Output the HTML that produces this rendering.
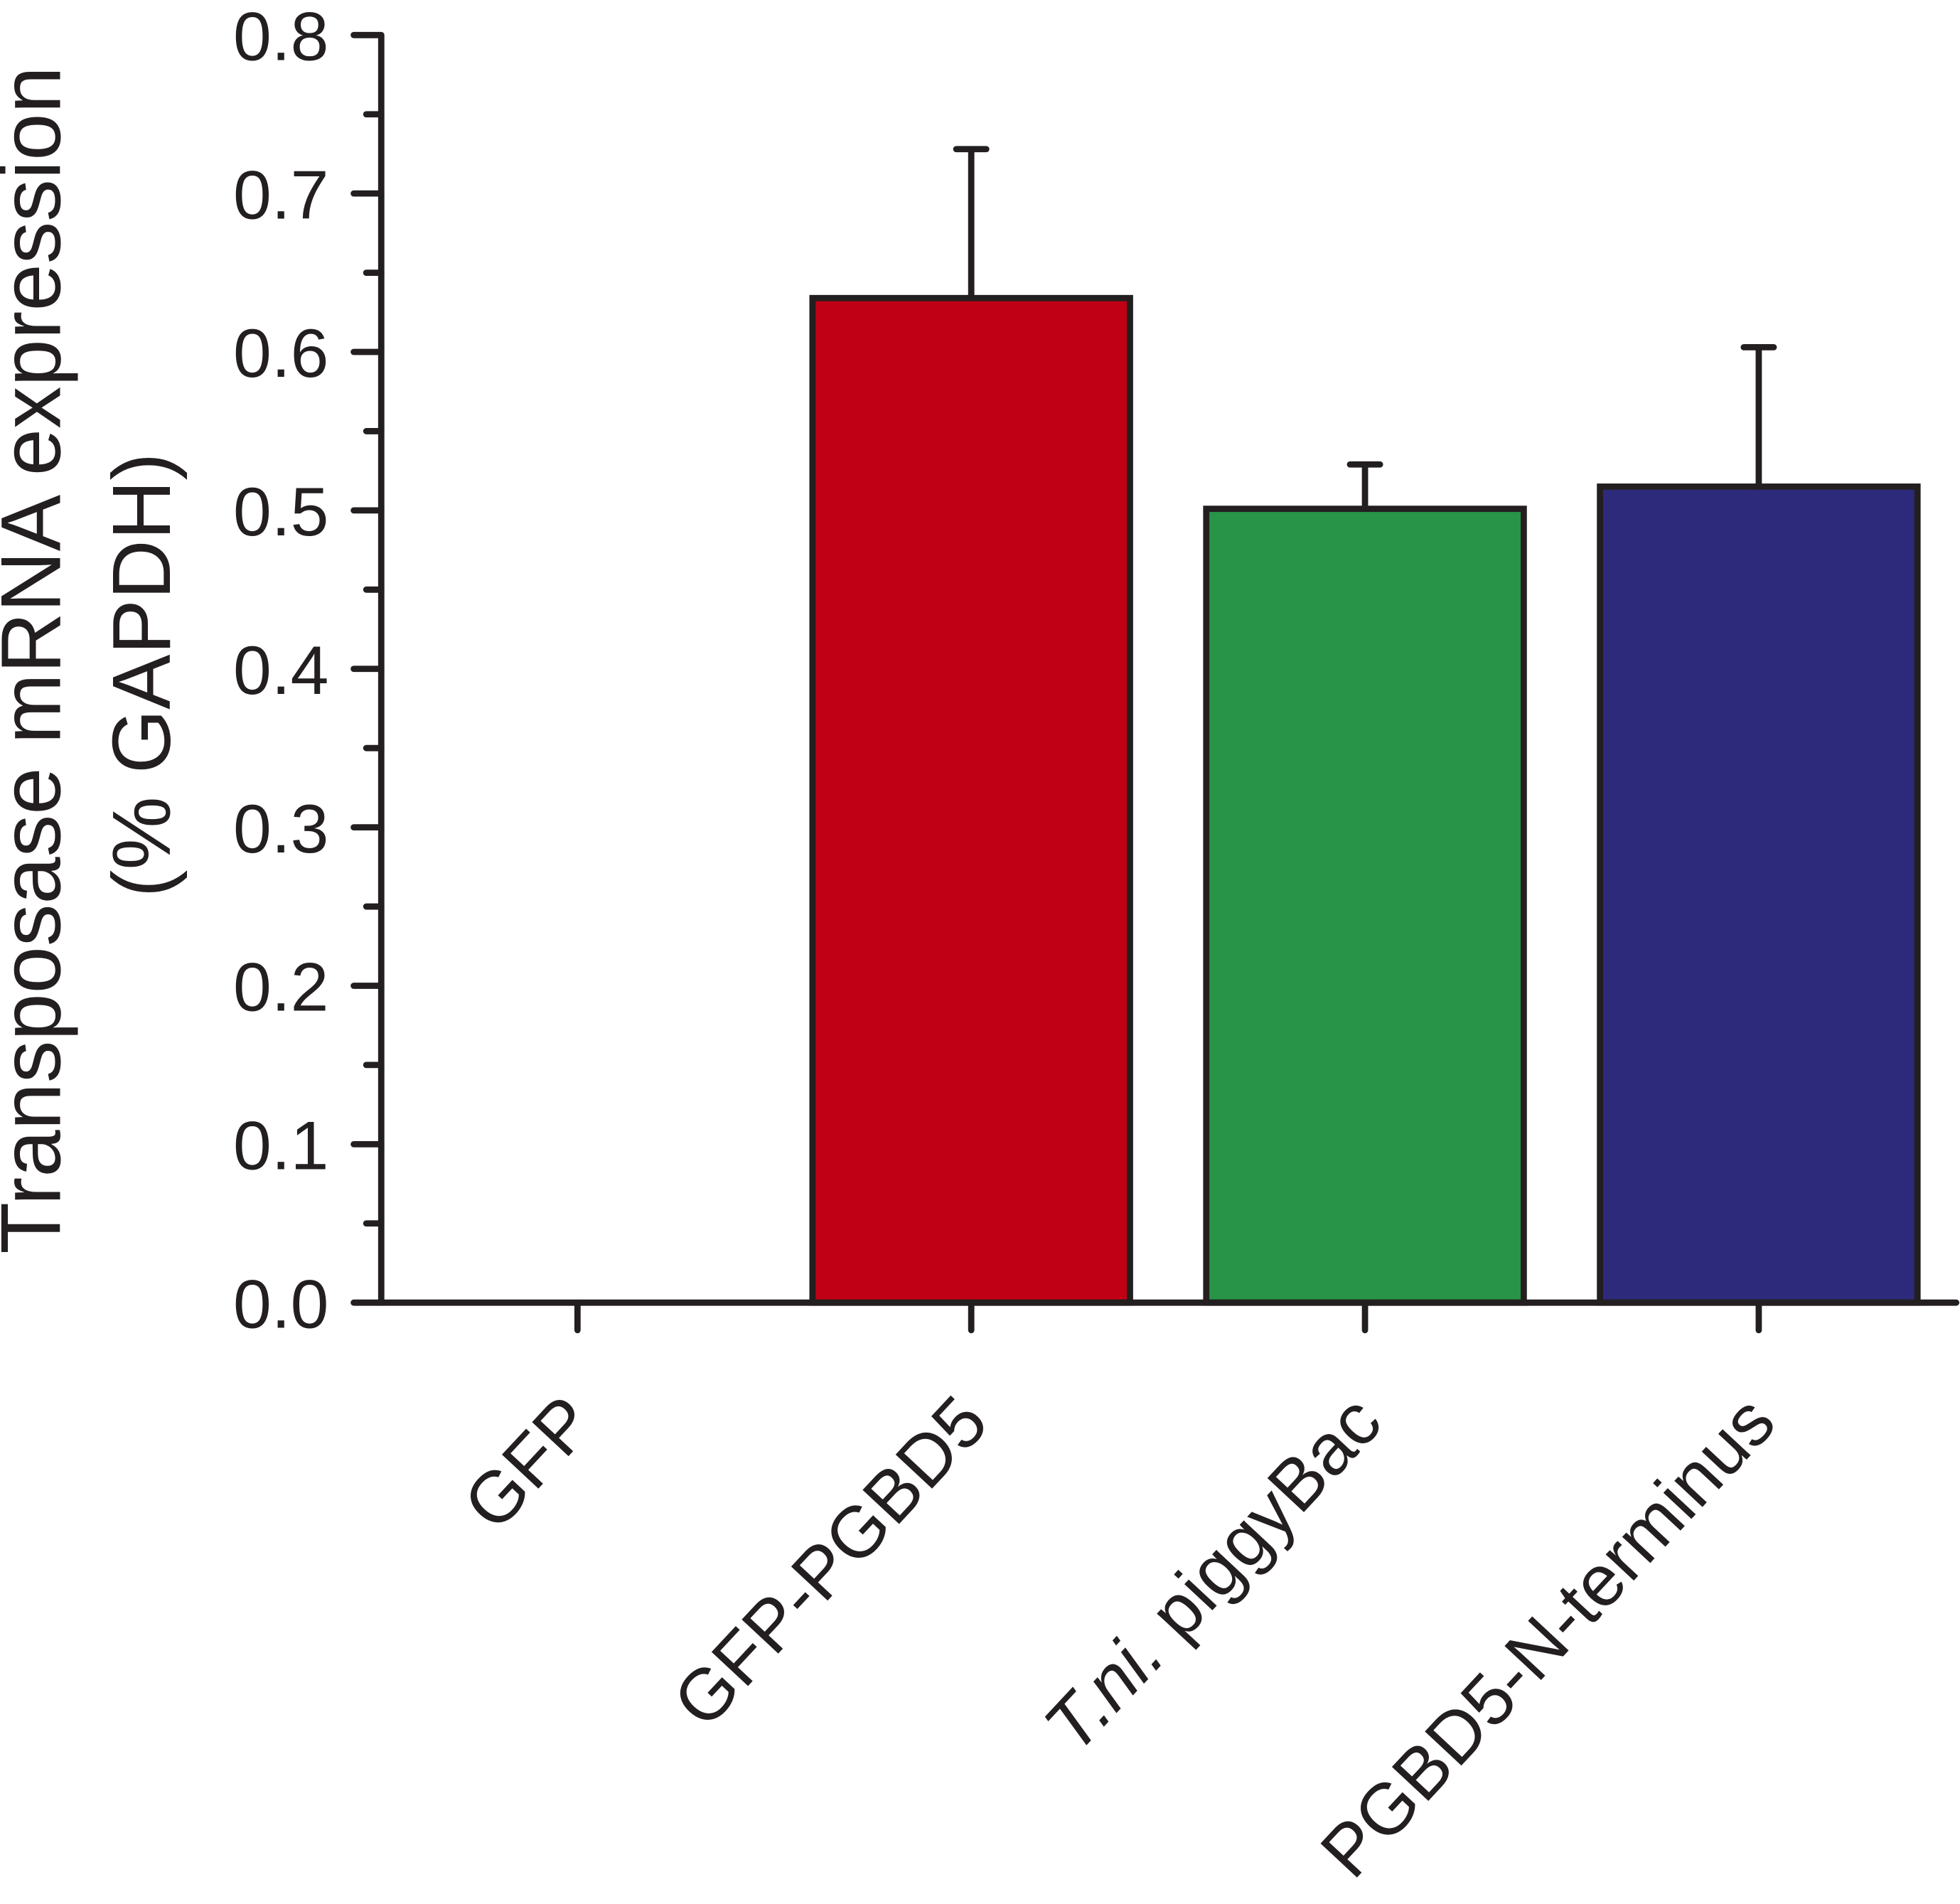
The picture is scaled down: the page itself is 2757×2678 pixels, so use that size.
<!DOCTYPE html>
<html><head><meta charset="utf-8"><style>html,body{margin:0;padding:0;background:#fff}svg{display:block}</style></head>
<body>
<svg id="chart" width="2757" height="2678" viewBox="0 0 1568 1523" xmlns="http://www.w3.org/2000/svg" font-family="'Liberation Sans', sans-serif"></svg>
<script>
const categories = ["GFP", "GFP-PGBD5", "T.ni. piggyBac", "PGBD5-N-terminus"];
const values = [0, 0.634, 0.501, 0.515];
const errors = [0, 0.094, 0.028, 0.088];
const colors = ["#ffffff", "#c00015", "#279447", "#2e2a7b"];
const yTicks = [0, 0.1, 0.2, 0.3, 0.4, 0.5, 0.6, 0.7, 0.8];
const yTickLabels = ["0.0", "0.1", "0.2", "0.3", "0.4", "0.5", "0.6", "0.7", "0.8"];

const NS = "http://www.w3.org/2000/svg";
const svg = document.getElementById("chart");
const x0 = 305, x1 = 1565, yBase = 1042, yTop = 28, yMax = 0.8;
const y = v => yBase - (v / yMax) * (yBase - yTop);
const band = 315, firstC = 462;
const xc = i => firstC + i * band;
const barW = 254;
const ink = "#231f20";
function el(tag, attrs, parent) {
  const e = document.createElementNS(NS, tag);
  for (const k in attrs) e.setAttribute(k, attrs[k]);
  (parent || svg).appendChild(e);
  return e;
}
categories.forEach((c, i) => {
  if (values[i] <= 0) return;
  const b = el("rect", {x: xc(i) - barW / 2, y: y(values[i]), width: barW, height: yBase - y(values[i]), fill: colors[i], stroke: ink, "stroke-width": 5});
  
  
  const e = el("path", {d: `M${xc(i)},${y(values[i])}V${y(values[i] + errors[i])}M${xc(i) - 12},${y(values[i] + errors[i])}H${xc(i) + 12}`, stroke: ink, "stroke-width": 5, "stroke-linecap": "round", fill: "none"});
  
  
});
const ya = el("path", {d: `M${x0},${yTop}V${yBase}`, stroke: ink, "stroke-width": 5, fill: "none"});


const xa = el("path", {d: `M${x0},${yBase}H${x1}`, stroke: ink, "stroke-width": 5, fill: "none", "stroke-linecap": "round"});


yTicks.forEach((t, i) => {
  const tk = el("path", {d: `M${x0 - 22},${y(t)}H${x0}`, stroke: ink, "stroke-width": 5, "stroke-linecap": "round"});
  
  
  if (i < yTicks.length - 1) {
    const m = el("path", {d: `M${x0 - 12},${y(t + 0.05)}H${x0}`, stroke: ink, "stroke-width": 5, "stroke-linecap": "round"});
    
    
  }
  const lb = el("text", {x: 263, y: y(t) + 20, "text-anchor": "end", "font-size": 55, fill: ink});
  lb.textContent = yTickLabels[i];
  
  
});
categories.forEach((c, i) => {
  const tk = el("path", {d: `M${xc(i)},${yBase}V${yBase + 22}`, stroke: ink, "stroke-width": 5, "stroke-linecap": "round"});
  
  
  const lx = xc(i) + 16, ly = 1140;
  const t = el("text", {x: lx, y: ly, "text-anchor": "end", "font-size": 58, fill: ink, transform: `rotate(-47 ${lx} ${ly})`});
  
  
  if (c.startsWith("T.ni.")) {
    const s1 = el("tspan", {"font-style": "italic"}, t); s1.textContent = "T.ni.";
    const s2 = el("tspan", {}, t); s2.textContent = c.slice(5);
  } else t.textContent = c;
});
const t1 = el("text", {x: 0, y: 0, "text-anchor": "middle", "font-size": 68, fill: ink, transform: "translate(48 528) rotate(-90)", textLength: 950, lengthAdjust: "spacingAndGlyphs"});
t1.textContent = "Transposase mRNA expression";


const t2 = el("text", {x: 0, y: 0, "text-anchor": "middle", "font-size": 66, fill: ink, transform: "translate(136 540) rotate(-90)"});
t2.textContent = "(% GAPDH)";


</script>
</body></html>
